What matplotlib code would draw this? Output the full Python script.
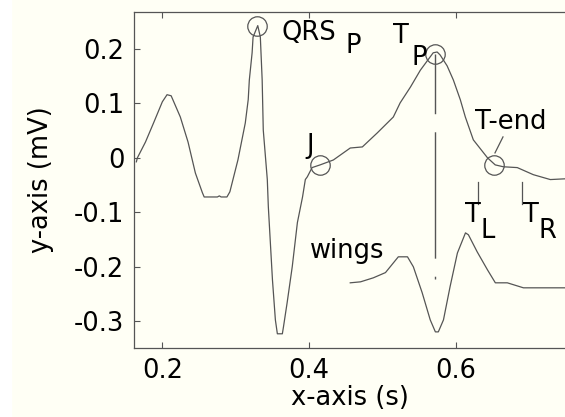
import numpy as np
import matplotlib.pyplot as plt
from matplotlib.patches import Rectangle

# ECG beat (time in s, amplitude in mV)
t_ecg = [0.1646, 0.166, 0.177, 0.188, 0.200, 0.2064, 0.212, 0.2245, 0.235, 0.245,
         0.2545, 0.257, 0.275, 0.2777, 0.280, 0.288, 0.292, 0.303, 0.313, 0.317,
         0.3185, 0.3223, 0.3236, 0.330, 0.3335, 0.336, 0.3375, 0.343, 0.3444, 0.350,
         0.354, 0.3567, 0.3635, 0.365, 0.370, 0.377, 0.384, 0.391, 0.3948, 0.3975,
         0.404, 0.415, 0.433, 0.456, 0.4725, 0.493, 0.5147, 0.524, 0.538, 0.5515,
         0.565, 0.569, 0.5744, 0.5785, 0.588, 0.5965, 0.606, 0.6128, 0.6237, 0.643,
         0.6535, 0.6646, 0.6836, 0.7054, 0.7286, 0.749]
v_ecg = [-0.0074, 0.0, 0.029, 0.064, 0.103, 0.116, 0.114, 0.075, 0.029, -0.028,
         -0.064, -0.072, -0.072, -0.070, -0.072, -0.072, -0.0625, -0.0037, 0.064, 0.107,
         0.143, 0.193, 0.222, 0.243, 0.222, 0.143, 0.051, -0.040, -0.090, -0.224,
         -0.298, -0.3235, -0.3235, -0.311, -0.2665, -0.200, -0.119, -0.072, -0.040, -0.035,
         -0.018, -0.013, -0.004, 0.018, 0.020, 0.046, 0.075, 0.101, 0.130, 0.161,
         0.1857, 0.193, 0.1945, 0.189, 0.169, 0.143, 0.1066, 0.075, 0.033, 0.0,
         -0.013, -0.0165, -0.018, -0.031, -0.040, -0.0386]

# "wings" curve drawn under the T wave
t_wings = [0.456, 0.470, 0.4875, 0.504, 0.5215, 0.534, 0.542, 0.554, 0.565, 0.572,
           0.576, 0.583, 0.592, 0.602, 0.613, 0.617, 0.629, 0.643, 0.6537, 0.670,
           0.692, 0.749]
v_wings = [-0.2298, -0.228, -0.2206, -0.211, -0.182, -0.182, -0.2004, -0.248, -0.298, -0.320,
           -0.320, -0.298, -0.237, -0.175, -0.138, -0.1415, -0.173, -0.206, -0.2298, -0.2298,
           -0.239, -0.239]

# fiducial points (circled)
fid_t = [0.3286, 0.5719, 0.4153, 0.6515]   # QRS_P, T_P, J, T-end
fid_v = [0.2423, 0.1903, -0.0132, -0.0132]

# T_L / T_R markers
t_lr = [0.6301, 0.6900]
lr_top, lr_bot = -0.0445, -0.085
tp_drop_bottom = -0.222

ink = '#555555'
bg = '#fffff5'
fs = 18.5

fig = plt.figure(figsize=(5.65, 4.17), dpi=100, facecolor=bg)
fig.patches.append(Rectangle((0, 0), 11 / 565, 1, transform=fig.transFigure,
                             color='white', zorder=-10))
ax = fig.add_axes([0.2372, 0.1655, 1 - 0.2372, 0.8057])
ax.set_facecolor(bg)

ax.plot(t_ecg, v_ecg, color=ink, lw=0.9)
ax.plot(t_wings, v_wings, color=ink, lw=0.9)
ax.plot(fid_t, fid_v, 'o', ms=14, mfc='none', mec=ink, mew=0.9, clip_on=False)

# dash-dot drop line from T peak, drawn bottom-up so the dot sits at the bottom
ax.plot([fid_t[1], fid_t[1]], [tp_drop_bottom, fid_v[1]], color=ink, lw=1.0,
        linestyle=(0, (2, 13, 91, 13, 60, 100)))
for t in t_lr:
    ax.plot([t, t], [lr_top, lr_bot], color=ink, lw=0.9)

# leader line to T-end
ax.plot([0.6641, 0.6532], [0.0384, 0.0090], color=ink, lw=0.9)

txt = dict(fontsize=fs, ha='left', va='baseline')
ax.text(0.3624, 0.2165, 'QRS', **txt)
ax.text(0.449, 0.1926, 'P', **txt)
ax.text(0.5143, 0.211, 'T', **txt)
ax.text(0.5398, 0.1706, 'P', **txt)
ax.text(0.3958, 0.0088, 'J', **txt)
ax.text(0.626, 0.0524, 'T-end', **txt)
ax.text(0.6124, -0.118, 'T', **txt)
ax.text(0.6328, -0.1474, 'L', **txt)
ax.text(0.691, -0.118, 'T', **txt)
ax.text(0.712, -0.1474, 'R', **txt)
ax.text(0.4012, -0.1847, 'wings', **txt)

ax.set_xlim(0.1614, 0.7486)
ax.set_ylim(-0.3496, 0.268)
ax.set_xticks([0.2, 0.4, 0.6])
ax.set_xticklabels(['0.2', '0.4', '0.6'])
ax.set_yticks([-0.3, -0.2, -0.1, 0, 0.1, 0.2])
ax.set_yticklabels(['-0.3', '-0.2', '-0.1', '0', '0.1', '0.2'])
ax.tick_params(direction='in', top=True, right=False, length=4, width=0.8,
               color=ink, labelsize=fs)
ax.tick_params(axis='y', pad=7)
ax.tick_params(axis='x', pad=7)
ax.spines['right'].set_visible(False)
for s in ['left', 'top', 'bottom']:
    ax.spines[s].set_color(ink)
    ax.spines[s].set_linewidth(0.9)

ax.set_xlabel('x-axis (s)', fontsize=fs, labelpad=1)
ax.set_ylabel('y-axis (mV)', fontsize=fs, labelpad=14)

fig.savefig('out.png', dpi=100, facecolor=bg)
